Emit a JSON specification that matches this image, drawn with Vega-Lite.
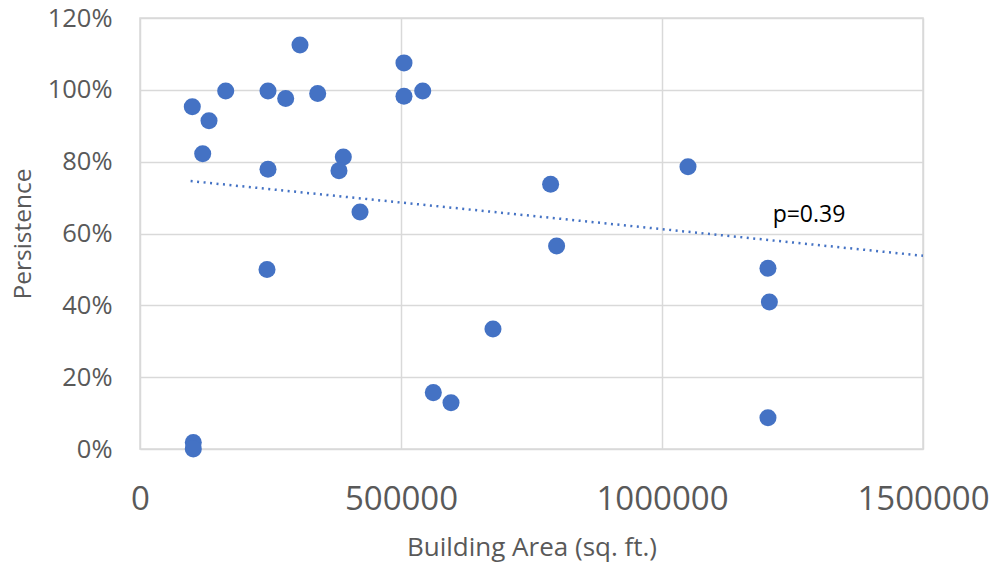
{
  "$schema": "https://vega.github.io/schema/vega-lite/v6.json",
  "width": 783,
  "height": 431,
  "autosize": {"type": "none"},
  "padding": {"left": 140, "top": 18, "right": 75, "bottom": 117},
  "background": "white",
  "config": {
    "view": {"stroke": "#d9d9d9", "strokeWidth": 1.5},
    "font": "Open Sans",
    "axis": {
      "gridColor": "#d9d9d9",
      "gridWidth": 1.5,
      "domain": false,
      "ticks": false,
      "labelColor": "#595959",
      "titleColor": "#595959",
      "labelFont": "Open Sans",
      "titleFont": "Open Sans",
      "titleFontWeight": "normal"
    }
  },
  "datasets": {
    "pts": [
      {"area": 100200, "persistence": 0.953},
      {"area": 132200, "persistence": 0.914},
      {"area": 120100, "persistence": 0.822},
      {"area": 164200, "persistence": 0.997},
      {"area": 245200, "persistence": 0.997},
      {"area": 279100, "persistence": 0.976},
      {"area": 306500, "persistence": 1.125},
      {"area": 340400, "persistence": 0.990},
      {"area": 245200, "persistence": 0.779},
      {"area": 389500, "persistence": 0.813},
      {"area": 381200, "persistence": 0.775},
      {"area": 421500, "persistence": 0.660},
      {"area": 505700, "persistence": 1.075},
      {"area": 505700, "persistence": 0.982},
      {"area": 541600, "persistence": 0.997},
      {"area": 243300, "persistence": 0.500},
      {"area": 102100, "persistence": 0.018},
      {"area": 102100, "persistence": 0.0},
      {"area": 561900, "persistence": 0.157},
      {"area": 595800, "persistence": 0.129},
      {"area": 786600, "persistence": 0.737},
      {"area": 1049800, "persistence": 0.786},
      {"area": 798100, "persistence": 0.565},
      {"area": 1203000, "persistence": 0.503},
      {"area": 1205700, "persistence": 0.409},
      {"area": 676200, "persistence": 0.334},
      {"area": 1203000, "persistence": 0.087}
    ],
    "trend": [
      {"area": 97000, "persistence": 0.746},
      {"area": 1500000, "persistence": 0.538}
    ],
    "note": [
      {"area": 1281600, "persistence": 0.652, "label": "p=0.39"}
    ]
  },
  "layer": [
    {
      "data": {"name": "trend"},
      "mark": {"type": "line", "color": "#4472C4", "strokeWidth": 2.5, "strokeDash": [2, 4.5]},
      "encoding": {
        "x": {"field": "area", "type": "quantitative"},
        "y": {"field": "persistence", "type": "quantitative"}
      }
    },
    {
      "data": {"name": "pts"},
      "mark": {"type": "circle", "color": "#4472C4", "opacity": 1, "size": 290},
      "encoding": {
        "x": {
          "field": "area",
          "type": "quantitative",
          "scale": {"domain": [0, 1500000], "nice": false, "zero": true},
          "axis": {
            "values": [0, 500000, 1000000, 1500000],
            "format": "d",
            "labelFontSize": 33,
            "labelPadding": 34,
            "labelFlush": false,
            "title": "Building Area (sq. ft.)",
            "titleFontSize": 26,
            "titlePadding": 18
          }
        },
        "y": {
          "field": "persistence",
          "type": "quantitative",
          "scale": {"domain": [0, 1.2], "nice": false},
          "axis": {
            "values": [0, 0.2, 0.4, 0.6, 0.8, 1.0, 1.2],
            "format": ".0%",
            "labelFontSize": 25.5,
            "labelPadding": 28,
            "title": "Persistence",
            "titleFontSize": 24.5,
            "titlePadding": 12
          }
        }
      }
    },
    {
      "data": {"name": "note"},
      "mark": {"type": "text", "color": "#000000", "fontSize": 23, "font": "Open Sans", "align": "center", "baseline": "middle"},
      "encoding": {
        "x": {"field": "area", "type": "quantitative"},
        "y": {"field": "persistence", "type": "quantitative"},
        "text": {"field": "label"}
      }
    }
  ]
}
